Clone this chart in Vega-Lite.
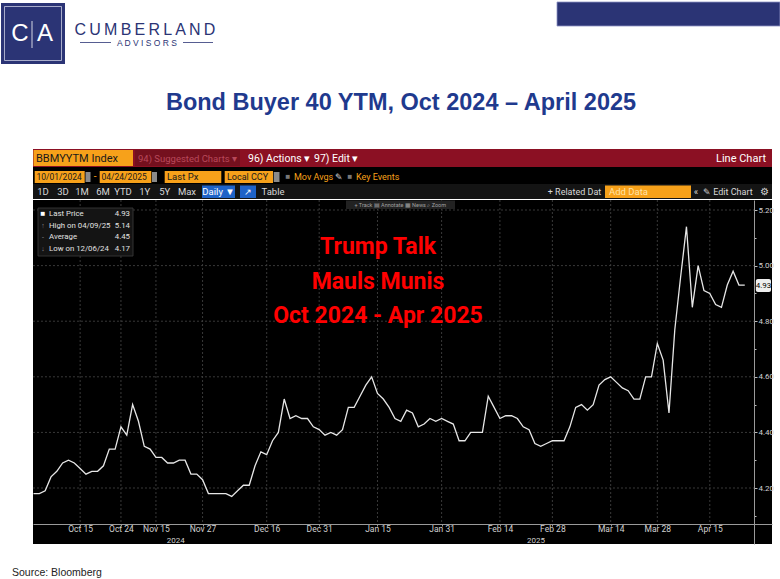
{
"$schema": "https://vega.github.io/schema/vega-lite/v6.json",
"background": "white",
"padding": 0,
"spacing": 0,
"config": {"view": {"stroke": null}, "concat": {"spacing": 0}, "text": {"font": "Roboto, sans-serif"}},
"datasets": {
"bb40": [
{"i":0,"v":4.18},{"i":1,"v":4.18},{"i":2,"v":4.19},{"i":3,"v":4.24},{"i":4,"v":4.26},{"i":5,"v":4.29},{"i":6,"v":4.30},{"i":7,"v":4.29},{"i":8,"v":4.27},{"i":9,"v":4.25},
{"i":10,"v":4.26},{"i":11,"v":4.26},{"i":12,"v":4.28},{"i":13,"v":4.34},{"i":14,"v":4.34},{"i":15,"v":4.42},{"i":16,"v":4.39},{"i":17,"v":4.50},{"i":18,"v":4.44},{"i":19,"v":4.35},
{"i":20,"v":4.34},{"i":21,"v":4.31},{"i":22,"v":4.31},{"i":23,"v":4.29},{"i":24,"v":4.29},{"i":25,"v":4.30},{"i":26,"v":4.30},{"i":27,"v":4.25},{"i":28,"v":4.25},{"i":29,"v":4.23},
{"i":30,"v":4.18},{"i":31,"v":4.18},{"i":32,"v":4.18},{"i":33,"v":4.18},{"i":34,"v":4.17},{"i":35,"v":4.19},{"i":36,"v":4.21},{"i":37,"v":4.21},{"i":38,"v":4.28},{"i":39,"v":4.33},
{"i":40,"v":4.32},{"i":41,"v":4.37},{"i":42,"v":4.40},{"i":43,"v":4.52},{"i":44,"v":4.45},{"i":45,"v":4.46},{"i":46,"v":4.45},{"i":47,"v":4.45},{"i":48,"v":4.42},{"i":49,"v":4.41},
{"i":50,"v":4.39},{"i":51,"v":4.40},{"i":52,"v":4.39},{"i":53,"v":4.41},{"i":54,"v":4.49},{"i":55,"v":4.49},{"i":56,"v":4.53},{"i":57,"v":4.57},{"i":58,"v":4.60},{"i":59,"v":4.54},
{"i":60,"v":4.52},{"i":61,"v":4.49},{"i":62,"v":4.45},{"i":63,"v":4.44},{"i":64,"v":4.48},{"i":65,"v":4.47},{"i":66,"v":4.42},{"i":67,"v":4.43},{"i":68,"v":4.45},{"i":69,"v":4.44},
{"i":70,"v":4.45},{"i":71,"v":4.44},{"i":72,"v":4.43},{"i":73,"v":4.37},{"i":74,"v":4.37},{"i":75,"v":4.40},{"i":76,"v":4.40},{"i":77,"v":4.40},{"i":78,"v":4.53},{"i":79,"v":4.49},
{"i":80,"v":4.45},{"i":81,"v":4.46},{"i":82,"v":4.46},{"i":83,"v":4.45},{"i":84,"v":4.42},{"i":85,"v":4.41},{"i":86,"v":4.36},{"i":87,"v":4.35},{"i":88,"v":4.36},{"i":89,"v":4.37},
{"i":90,"v":4.37},{"i":91,"v":4.37},{"i":92,"v":4.42},{"i":93,"v":4.49},{"i":94,"v":4.50},{"i":95,"v":4.48},{"i":96,"v":4.50},{"i":97,"v":4.57},{"i":98,"v":4.59},{"i":99,"v":4.60},
{"i":100,"v":4.58},{"i":101,"v":4.56},{"i":102,"v":4.55},{"i":103,"v":4.52},{"i":104,"v":4.52},{"i":105,"v":4.60},{"i":106,"v":4.60},{"i":107,"v":4.72},{"i":108,"v":4.66},{"i":109,"v":4.47},
{"i":110,"v":4.77},{"i":111,"v":4.96},{"i":112,"v":5.14},{"i":113,"v":4.85},{"i":114,"v":5.00},{"i":115,"v":4.91},{"i":116,"v":4.90},{"i":117,"v":4.86},{"i":118,"v":4.85},{"i":119,"v":4.93},
{"i":120,"v":4.98},{"i":121,"v":4.93},{"i":122,"v":4.93}
]
},
"vconcat": [
{
"width": 780, "height": 149,
"layer": [
{"data": {"values": [{}]}, "mark": {"type": "rect", "fill": "#2B3475"}, "encoding": {"x": {"datum": 1, "type": "quantitative", "scale": {"domain": [0, 780], "nice": false, "zero": false}, "axis": null}, "x2": {"datum": 65}, "y": {"datum": 3, "type": "quantitative", "scale": {"domain": [0, 149], "reverse": true, "nice": false, "zero": false}, "axis": null}, "y2": {"datum": 64}}},
{"data": {"values": [{}]}, "mark": {"type": "rect", "fillOpacity": 0, "stroke": "#c9cce0", "strokeWidth": 0.8}, "encoding": {"x": {"datum": 4.5, "type": "quantitative", "axis": null}, "x2": {"datum": 61.5}, "y": {"datum": 6.5, "type": "quantitative", "axis": null}, "y2": {"datum": 60.5}}},
{"data": {"values": [{}]}, "mark": {"type": "text", "text": "C", "font": "Liberation Sans, Arial, sans-serif", "fontSize": 24, "color": "white", "align": "center", "baseline": "middle"}, "encoding": {"x": {"datum": 20, "type": "quantitative", "axis": null}, "y": {"datum": 34, "type": "quantitative", "axis": null}}},
{"data": {"values": [{}]}, "mark": {"type": "rule", "color": "white", "strokeWidth": 0.8}, "encoding": {"x": {"datum": 32, "type": "quantitative", "axis": null}, "y": {"datum": 21, "type": "quantitative", "axis": null}, "y2": {"datum": 48}}},
{"data": {"values": [{}]}, "mark": {"type": "text", "text": "A", "font": "Liberation Sans, Arial, sans-serif", "fontSize": 24, "color": "white", "align": "center", "baseline": "middle"}, "encoding": {"x": {"datum": 45, "type": "quantitative", "axis": null}, "y": {"datum": 34, "type": "quantitative", "axis": null}}},
{"data": {"values": [{}]}, "mark": {"type": "text", "text": "C\u2009U\u2009M\u2009B\u2009E\u2009R\u2009L\u2009A\u2009N\u2009D", "font": "Liberation Sans, Arial, sans-serif", "fontSize": 16, "color": "#2B3475", "align": "center", "baseline": "middle"}, "encoding": {"x": {"datum": 145, "type": "quantitative", "axis": null}, "y": {"datum": 30, "type": "quantitative", "axis": null}}},
{"data": {"values": [{}]}, "mark": {"type": "text", "text": "A D V I S O R S", "font": "Liberation Sans, Arial, sans-serif", "fontSize": 8.5, "color": "#2B3475", "align": "center", "baseline": "middle"}, "encoding": {"x": {"datum": 147, "type": "quantitative", "axis": null}, "y": {"datum": 42.5, "type": "quantitative", "axis": null}}},
{"data": {"values": [{}]}, "mark": {"type": "rule", "color": "#2B3475", "strokeWidth": 0.8}, "encoding": {"x": {"datum": 80, "type": "quantitative", "axis": null}, "x2": {"datum": 111}, "y": {"datum": 42.5, "type": "quantitative", "axis": null}}},
{"data": {"values": [{}]}, "mark": {"type": "rule", "color": "#2B3475", "strokeWidth": 0.8}, "encoding": {"x": {"datum": 183, "type": "quantitative", "axis": null}, "x2": {"datum": 213}, "y": {"datum": 42.5, "type": "quantitative", "axis": null}}},
{"data": {"values": [{}]}, "mark": {"type": "rect", "fill": "#2B3475", "stroke": "#8d93c4", "strokeWidth": 0.8}, "encoding": {"x": {"datum": 557, "type": "quantitative", "axis": null}, "x2": {"datum": 780}, "y": {"datum": 2, "type": "quantitative", "axis": null}, "y2": {"datum": 26}}},
{"data": {"values": [{}]}, "mark": {"type": "text", "text": "Bond Buyer 40 YTM, Oct 2024 \u2013 April 2025", "font": "Liberation Sans, Arial, sans-serif", "fontSize": 23.5, "fontWeight": "bold", "color": "#1F3A8E", "align": "center", "baseline": "middle"}, "encoding": {"x": {"datum": 401, "type": "quantitative", "axis": null}, "y": {"datum": 103, "type": "quantitative", "axis": null}}}
]
},
{
"spacing": 0,
"hconcat": [
{"width": 30, "height": 394, "data": {"values": []}, "mark": "point", "encoding": {}},
{
"spacing": 0,
"vconcat": [
{
"width": 739, "height": 18, "view": {"fill": "#8B1023", "stroke": null},
"layer": [
{"data": {"values": [{}]}, "mark": {"type": "rect", "fill": "#F7A11A"}, "encoding": {"x": {"datum": 0.5, "type": "quantitative", "scale": {"domain": [0, 739], "nice": false, "zero": false}, "axis": null}, "x2": {"datum": 100}, "y": {"datum": 1, "type": "quantitative", "scale": {"domain": [0, 18], "reverse": true, "nice": false, "zero": false}, "axis": null}, "y2": {"datum": 17}}},
{"data": {"values": [{}]}, "mark": {"type": "rect", "fill": "#74101E"}, "encoding": {"x": {"datum": 102, "type": "quantitative", "axis": null}, "x2": {"datum": 207}, "y": {"datum": 1, "type": "quantitative", "axis": null}, "y2": {"datum": 17}}},
{"data": {"values": [{}]}, "mark": {"type": "text", "text": "BBMYYTM Index", "fontSize": 11, "color": "#1a1a1a", "align": "left", "baseline": "middle"}, "encoding": {"x": {"datum": 3, "type": "quantitative", "axis": null}, "y": {"datum": 9.5, "type": "quantitative", "axis": null}}},
{"data": {"values": [{}]}, "mark": {"type": "text", "text": "94) Suggested Charts \u25be", "fontSize": 9.5, "color": "#B8485A", "align": "left", "baseline": "middle"}, "encoding": {"x": {"datum": 105, "type": "quantitative", "axis": null}, "y": {"datum": 9.5, "type": "quantitative", "axis": null}}},
{"data": {"values": [{}]}, "mark": {"type": "text", "text": "96) Actions \u25be", "fontSize": 10.5, "color": "white", "align": "left", "baseline": "middle"}, "encoding": {"x": {"datum": 215, "type": "quantitative", "axis": null}, "y": {"datum": 9.5, "type": "quantitative", "axis": null}}},
{"data": {"values": [{}]}, "mark": {"type": "text", "text": "97) Edit \u25be", "fontSize": 10.5, "color": "white", "align": "left", "baseline": "middle"}, "encoding": {"x": {"datum": 281, "type": "quantitative", "axis": null}, "y": {"datum": 9.5, "type": "quantitative", "axis": null}}},
{"data": {"values": [{}]}, "mark": {"type": "text", "text": "Line Chart", "fontSize": 11, "color": "white", "align": "right", "baseline": "middle"}, "encoding": {"x": {"datum": 733, "type": "quantitative", "axis": null}, "y": {"datum": 9.5, "type": "quantitative", "axis": null}}}
]
},
{
"width": 739, "height": 17, "view": {"fill": "#000000", "stroke": null},
"layer": [
{"data": {"values": [{}]}, "mark": {"type": "rect", "fill": "#F7A11A"}, "encoding": {"x": {"datum": 1.7, "type": "quantitative", "scale": {"domain": [0, 739], "nice": false, "zero": false}, "axis": null}, "x2": {"datum": 51.7}, "y": {"datum": 4, "type": "quantitative", "scale": {"domain": [0, 17], "reverse": true, "nice": false, "zero": false}, "axis": null}, "y2": {"datum": 16}}},
{"data": {"values": [{}]}, "mark": {"type": "rect", "fill": "#F7A11A"}, "encoding": {"x": {"datum": 66.7, "type": "quantitative", "axis": null}, "x2": {"datum": 118.3}, "y": {"datum": 4, "type": "quantitative", "axis": null}, "y2": {"datum": 16}}},
{"data": {"values": [{}]}, "mark": {"type": "rect", "fill": "#F7A11A"}, "encoding": {"x": {"datum": 131.7, "type": "quantitative", "axis": null}, "x2": {"datum": 188.3}, "y": {"datum": 4, "type": "quantitative", "axis": null}, "y2": {"datum": 16}}},
{"data": {"values": [{}]}, "mark": {"type": "rect", "fill": "#F7A11A"}, "encoding": {"x": {"datum": 191.7, "type": "quantitative", "axis": null}, "x2": {"datum": 240}, "y": {"datum": 4, "type": "quantitative", "axis": null}, "y2": {"datum": 16}}},
{"data": {"values": [{}]}, "mark": {"type": "rect", "fill": "#8a8a8a"}, "encoding": {"x": {"datum": 52.5, "type": "quantitative", "axis": null}, "x2": {"datum": 57.5}, "y": {"datum": 5, "type": "quantitative", "axis": null}, "y2": {"datum": 15}}},
{"data": {"values": [{}]}, "mark": {"type": "rect", "fill": "#8a8a8a"}, "encoding": {"x": {"datum": 119, "type": "quantitative", "axis": null}, "x2": {"datum": 124}, "y": {"datum": 5, "type": "quantitative", "axis": null}, "y2": {"datum": 15}}},
{"data": {"values": [{}]}, "mark": {"type": "rect", "fill": "#8a8a8a"}, "encoding": {"x": {"datum": 240.7, "type": "quantitative", "axis": null}, "x2": {"datum": 246.5}, "y": {"datum": 5, "type": "quantitative", "axis": null}, "y2": {"datum": 15}}},
{"data": {"values": [{}]}, "mark": {"type": "text", "text": "10/01/2024", "fontSize": 8.5, "color": "#1a1a1a", "align": "left", "baseline": "middle"}, "encoding": {"x": {"datum": 3.5, "type": "quantitative", "axis": null}, "y": {"datum": 10, "type": "quantitative", "axis": null}}},
{"data": {"values": [{}]}, "mark": {"type": "text", "text": "-", "fontSize": 10, "color": "#F7A11A", "align": "center", "baseline": "middle"}, "encoding": {"x": {"datum": 62, "type": "quantitative", "axis": null}, "y": {"datum": 10, "type": "quantitative", "axis": null}}},
{"data": {"values": [{}]}, "mark": {"type": "text", "text": "04/24/2025", "fontSize": 8.5, "color": "#1a1a1a", "align": "left", "baseline": "middle"}, "encoding": {"x": {"datum": 68.5, "type": "quantitative", "axis": null}, "y": {"datum": 10, "type": "quantitative", "axis": null}}},
{"data": {"values": [{}]}, "mark": {"type": "text", "text": "Last Px", "fontSize": 9.5, "color": "#1a1a1a", "align": "left", "baseline": "middle"}, "encoding": {"x": {"datum": 134, "type": "quantitative", "axis": null}, "y": {"datum": 10, "type": "quantitative", "axis": null}}},
{"data": {"values": [{}]}, "mark": {"type": "text", "text": "Local CCY", "fontSize": 9, "color": "#1a1a1a", "align": "left", "baseline": "middle"}, "encoding": {"x": {"datum": 194, "type": "quantitative", "axis": null}, "y": {"datum": 10, "type": "quantitative", "axis": null}}},
{"data": {"values": [{}]}, "mark": {"type": "text", "text": "\u25a0", "fontSize": 8, "color": "#777777", "align": "center", "baseline": "middle"}, "encoding": {"x": {"datum": 255, "type": "quantitative", "axis": null}, "y": {"datum": 10, "type": "quantitative", "axis": null}}},
{"data": {"values": [{}]}, "mark": {"type": "text", "text": "Mov Avgs", "fontSize": 9, "color": "#F7A11A", "align": "left", "baseline": "middle"}, "encoding": {"x": {"datum": 261, "type": "quantitative", "axis": null}, "y": {"datum": 10, "type": "quantitative", "axis": null}}},
{"data": {"values": [{}]}, "mark": {"type": "text", "text": "\u270e", "fontSize": 9, "color": "#dddddd", "align": "center", "baseline": "middle"}, "encoding": {"x": {"datum": 306, "type": "quantitative", "axis": null}, "y": {"datum": 10, "type": "quantitative", "axis": null}}},
{"data": {"values": [{}]}, "mark": {"type": "text", "text": "\u25a0", "fontSize": 8, "color": "#777777", "align": "center", "baseline": "middle"}, "encoding": {"x": {"datum": 317, "type": "quantitative", "axis": null}, "y": {"datum": 10, "type": "quantitative", "axis": null}}},
{"data": {"values": [{}]}, "mark": {"type": "text", "text": "Key Events", "fontSize": 9, "color": "#F7A11A", "align": "left", "baseline": "middle"}, "encoding": {"x": {"datum": 323, "type": "quantitative", "axis": null}, "y": {"datum": 10, "type": "quantitative", "axis": null}}}
]
},
{
"width": 739, "height": 15, "view": {"fill": "#141414", "stroke": null},
"layer": [
{"data": {"values": [{}]}, "mark": {"type": "rect", "fill": "#1F63C8"}, "encoding": {"x": {"datum": 169, "type": "quantitative", "scale": {"domain": [0, 739], "nice": false, "zero": false}, "axis": null}, "x2": {"datum": 202}, "y": {"datum": 1.5, "type": "quantitative", "scale": {"domain": [0, 15], "reverse": true, "nice": false, "zero": false}, "axis": null}, "y2": {"datum": 14}}},
{"data": {"values": [{}]}, "mark": {"type": "rect", "fill": "#1F63C8"}, "encoding": {"x": {"datum": 207, "type": "quantitative", "axis": null}, "x2": {"datum": 223}, "y": {"datum": 1.5, "type": "quantitative", "axis": null}, "y2": {"datum": 14}}},
{"data": {"values": [{}]}, "mark": {"type": "rect", "fill": "#F7A11A"}, "encoding": {"x": {"datum": 572, "type": "quantitative", "axis": null}, "x2": {"datum": 658}, "y": {"datum": 1.5, "type": "quantitative", "axis": null}, "y2": {"datum": 14}}},
{"data": {"values": [{}]}, "mark": {"type": "text", "text": "1D", "fontSize": 9.5, "color": "#d8d8d8", "align": "center", "baseline": "middle"}, "encoding": {"x": {"datum": 10, "type": "quantitative", "axis": null}, "y": {"datum": 7.8, "type": "quantitative", "axis": null}}},
{"data": {"values": [{}]}, "mark": {"type": "text", "text": "3D", "fontSize": 9.5, "color": "#d8d8d8", "align": "center", "baseline": "middle"}, "encoding": {"x": {"datum": 30, "type": "quantitative", "axis": null}, "y": {"datum": 7.8, "type": "quantitative", "axis": null}}},
{"data": {"values": [{}]}, "mark": {"type": "text", "text": "1M", "fontSize": 9.5, "color": "#d8d8d8", "align": "center", "baseline": "middle"}, "encoding": {"x": {"datum": 49, "type": "quantitative", "axis": null}, "y": {"datum": 7.8, "type": "quantitative", "axis": null}}},
{"data": {"values": [{}]}, "mark": {"type": "text", "text": "6M", "fontSize": 9.5, "color": "#d8d8d8", "align": "center", "baseline": "middle"}, "encoding": {"x": {"datum": 70, "type": "quantitative", "axis": null}, "y": {"datum": 7.8, "type": "quantitative", "axis": null}}},
{"data": {"values": [{}]}, "mark": {"type": "text", "text": "YTD", "fontSize": 9.5, "color": "#d8d8d8", "align": "center", "baseline": "middle"}, "encoding": {"x": {"datum": 90, "type": "quantitative", "axis": null}, "y": {"datum": 7.8, "type": "quantitative", "axis": null}}},
{"data": {"values": [{}]}, "mark": {"type": "text", "text": "1Y", "fontSize": 9.5, "color": "#d8d8d8", "align": "center", "baseline": "middle"}, "encoding": {"x": {"datum": 111.7, "type": "quantitative", "axis": null}, "y": {"datum": 7.8, "type": "quantitative", "axis": null}}},
{"data": {"values": [{}]}, "mark": {"type": "text", "text": "5Y", "fontSize": 9.5, "color": "#d8d8d8", "align": "center", "baseline": "middle"}, "encoding": {"x": {"datum": 131.7, "type": "quantitative", "axis": null}, "y": {"datum": 7.8, "type": "quantitative", "axis": null}}},
{"data": {"values": [{}]}, "mark": {"type": "text", "text": "Max", "fontSize": 9.5, "color": "#d8d8d8", "align": "center", "baseline": "middle"}, "encoding": {"x": {"datum": 154, "type": "quantitative", "axis": null}, "y": {"datum": 7.8, "type": "quantitative", "axis": null}}},
{"data": {"values": [{}]}, "mark": {"type": "text", "text": "Daily \u25bc", "fontSize": 9.5, "color": "white", "align": "center", "baseline": "middle"}, "encoding": {"x": {"datum": 185.5, "type": "quantitative", "axis": null}, "y": {"datum": 7.8, "type": "quantitative", "axis": null}}},
{"data": {"values": [{}]}, "mark": {"type": "text", "text": "\u2197", "fontSize": 9, "color": "white", "align": "center", "baseline": "middle"}, "encoding": {"x": {"datum": 215, "type": "quantitative", "axis": null}, "y": {"datum": 7.8, "type": "quantitative", "axis": null}}},
{"data": {"values": [{}]}, "mark": {"type": "text", "text": "Table", "fontSize": 9.5, "color": "#d8d8d8", "align": "center", "baseline": "middle"}, "encoding": {"x": {"datum": 240, "type": "quantitative", "axis": null}, "y": {"datum": 7.8, "type": "quantitative", "axis": null}}},
{"data": {"values": [{}]}, "mark": {"type": "text", "text": "+ Related Dat", "fontSize": 9, "color": "#d8d8d8", "align": "center", "baseline": "middle"}, "encoding": {"x": {"datum": 541.5, "type": "quantitative", "axis": null}, "y": {"datum": 7.8, "type": "quantitative", "axis": null}}},
{"data": {"values": [{}]}, "mark": {"type": "text", "text": "Add Data", "fontSize": 9.5, "color": "#FFE3A8", "align": "left", "baseline": "middle"}, "encoding": {"x": {"datum": 576, "type": "quantitative", "axis": null}, "y": {"datum": 7.8, "type": "quantitative", "axis": null}}},
{"data": {"values": [{}]}, "mark": {"type": "text", "text": "\u00ab", "fontSize": 9.5, "color": "#d8d8d8", "align": "center", "baseline": "middle"}, "encoding": {"x": {"datum": 663, "type": "quantitative", "axis": null}, "y": {"datum": 7.8, "type": "quantitative", "axis": null}}},
{"data": {"values": [{}]}, "mark": {"type": "text", "text": "\u270e Edit Chart", "fontSize": 9, "color": "#d8d8d8", "align": "left", "baseline": "middle"}, "encoding": {"x": {"datum": 670, "type": "quantitative", "axis": null}, "y": {"datum": 7.8, "type": "quantitative", "axis": null}}},
{"data": {"values": [{}]}, "mark": {"type": "text", "text": "\u2699", "fontSize": 9.5, "color": "#d8d8d8", "align": "center", "baseline": "middle"}, "encoding": {"x": {"datum": 731, "type": "quantitative", "axis": null}, "y": {"datum": 7.8, "type": "quantitative", "axis": null}}}
]
},
{
"width": 739, "height": 344, "view": {"fill": "#000000", "stroke": null},
"resolve": {"axis": {"x": "independent", "y": "independent"}},
"layer": [
{"data": {"values": [{"g": 4.2}, {"g": 4.4}, {"g": 4.6}, {"g": 4.8}, {"g": 5.0}, {"g": 5.2}]}, "mark": {"type": "rule", "color": "#404040", "strokeWidth": 0.9, "strokeDash": [2, 2]}, "encoding": {"y": {"field": "g", "type": "quantitative", "axis": null}, "x": {"datum": -0.09, "type": "quantitative", "axis": null}, "x2": {"datum": 123.6}}},
{"data": {"values": [{"t": 8}, {"t": 15}, {"t": 21}, {"t": 29}, {"t": 40}, {"t": 49}, {"t": 59}, {"t": 70}, {"t": 80}, {"t": 89}, {"t": 99}, {"t": 107}, {"t": 116}]}, "mark": {"type": "rule", "color": "#404040", "strokeWidth": 0.9, "strokeDash": [2, 2]}, "encoding": {"x": {"field": "t", "type": "quantitative", "axis": null}, "y": {"datum": 5.236, "type": "quantitative", "axis": null}, "y2": {"datum": 4.0716}}},
{"data": {"values": [{}]}, "mark": {"type": "rect", "fill": "#141414", "stroke": "#3d3d3d", "strokeWidth": 0.8}, "encoding": {"x": {"datum": 0.77, "type": "quantitative", "axis": null}, "x2": {"datum": 17.07}, "y": {"datum": 5.2072, "type": "quantitative", "axis": null}, "y2": {"datum": 5.0345}}},
{"data": {"values": [{}]}, "mark": {"type": "text", "text": "\u25a0", "fontSize": 8, "color": "white", "align": "center", "baseline": "middle"}, "encoding": {"x": {"datum": 1.63, "type": "quantitative", "axis": null}, "y": {"datum": 5.1856, "type": "quantitative", "axis": null}}},
{"data": {"values": [{}]}, "mark": {"type": "text", "text": ["\u2191", "-", "\u2193"], "lineHeight": 11.7, "fontSize": 7, "color": "#8a8a8a", "align": "center", "baseline": "middle"}, "encoding": {"x": {"datum": 1.63, "type": "quantitative", "axis": null}, "y": {"datum": 5.1424, "type": "quantitative", "axis": null}}},
{"data": {"values": [{}]}, "mark": {"type": "text", "text": ["Last Price", "High on 04/09/25", "Average", "Low on 12/06/24"], "lineHeight": 11.7, "fontSize": 7.8, "color": "#e2e2e2", "align": "left", "baseline": "middle"}, "encoding": {"x": {"datum": 2.66, "type": "quantitative", "axis": null}, "y": {"datum": 5.1856, "type": "quantitative", "axis": null}}},
{"data": {"values": [{}]}, "mark": {"type": "text", "text": ["4.93", "5.14", "4.45", "4.17"], "lineHeight": 11.7, "fontSize": 7.8, "color": "#e2e2e2", "align": "right", "baseline": "middle"}, "encoding": {"x": {"datum": 16.55, "type": "quantitative", "axis": null}, "y": {"datum": 5.1856, "type": "quantitative", "axis": null}}},
{"data": {"values": [{}]}, "mark": {"type": "rect", "fill": "#222222"}, "encoding": {"x": {"datum": 53.6, "type": "quantitative", "axis": null}, "x2": {"datum": 72.3}, "y": {"datum": 5.2342, "type": "quantitative", "axis": null}, "y2": {"datum": 5.2036}}},
{"data": {"values": [{}]}, "mark": {"type": "text", "text": "+ Track   \u25a4 Annotate   \u25a6 News   \u2315 Zoom", "fontSize": 5.5, "color": "#a0a0a0", "align": "center", "baseline": "middle"}, "encoding": {"x": {"datum": 62.9, "type": "quantitative", "axis": null}, "y": {"datum": 5.219, "type": "quantitative", "axis": null}}},
{"data": {"values": [{}]}, "mark": {"type": "text", "text": ["Trump Talk", "Mauls Munis", "Oct 2024 - Apr 2025"], "lineHeight": 34.5, "fontSize": 23, "fontWeight": "bold", "color": "#FF0000", "align": "center", "baseline": "middle"}, "encoding": {"x": {"datum": 59.09, "type": "quantitative", "axis": null}, "y": {"datum": 5.0669, "type": "quantitative", "axis": null}}},
{"data": {"name": "bb40"}, "mark": {"type": "line", "color": "#e6e6e6", "strokeWidth": 1.3},
 "encoding": {
  "x": {"field": "i", "type": "quantitative", "scale": {"domain": [-0.086, 126.67], "nice": false, "zero": false},
        "axis": {"orient": "bottom", "offset": -20, "values": [8, 15, 21, 29, 40, 49, 59, 70, 80, 89, 99, 107, 116],
                 "labelExpr": "['Oct 15','Oct 24','Nov 15','Nov 27','Dec 16','Dec 31','Jan 15','Jan 31','Feb 14','Feb 28','Mar 14','Mar 28','Apr 15'][indexof([8,15,21,29,40,49,59,70,80,89,99,107,116], datum.value)]",
                 "grid": false, "title": null, "domainColor": "#9a9a9a", "tickColor": "#9a9a9a", "tickSize": 2, "labelColor": "#d0d0d0", "labelFontSize": 8.5, "labelFont": "Roboto, sans-serif", "labelPadding": -1.5, "labelFlush": false, "labelOverlap": false}},
  "y": {"field": "v", "type": "quantitative", "scale": {"domain": [3.9986, 5.236], "nice": false, "zero": false},
        "axis": {"orient": "right", "offset": -18, "values": [4.1, 4.2, 4.3, 4.4, 4.5, 4.6, 4.7, 4.8, 4.9, 5.0, 5.1, 5.2],
                 "labelExpr": "round(datum.value*10)%2==0 ? format(datum.value,'.2f') : ''",
                 "grid": false, "title": null, "domainColor": "#9a9a9a", "tickColor": "#bbbbbb",
                 "tickSize": {"condition": {"test": "round(datum.value*10)%2==0", "value": 3}, "value": 2},
                 "labelColor": "#d0d0d0", "labelFontSize": 8, "labelFont": "Roboto, sans-serif", "labelPadding": 1, "labelOverlap": false, "labelFlush": false}}
 }},
{"data": {"values": [{}]}, "mark": {"type": "rect", "fill": "#eeeeee", "cornerRadius": 2}, "encoding": {"x": {"datum": 123.9, "type": "quantitative", "axis": null}, "x2": {"datum": 126.5}, "y": {"datum": 4.9518, "type": "quantitative", "axis": null}, "y2": {"datum": 4.905}}},
{"data": {"values": [{}]}, "mark": {"type": "text", "text": "4.93", "fontSize": 8, "color": "#000000", "align": "center", "baseline": "middle"}, "encoding": {"x": {"datum": 125.2, "type": "quantitative", "axis": null}, "y": {"datum": 4.928, "type": "quantitative", "axis": null}}},
{"data": {"values": [{}]}, "mark": {"type": "text", "text": "2024", "fontSize": 8, "color": "#cfcfcf", "align": "center", "baseline": "middle"}, "encoding": {"x": {"datum": 24.4, "type": "quantitative", "axis": null}, "y": {"datum": 4.0093, "type": "quantitative", "axis": null}}},
{"data": {"values": [{}]}, "mark": {"type": "text", "text": "2025", "fontSize": 8, "color": "#cfcfcf", "align": "center", "baseline": "middle"}, "encoding": {"x": {"datum": 86.2, "type": "quantitative", "axis": null}, "y": {"datum": 4.0093, "type": "quantitative", "axis": null}}}
]
}
]
}
]
},
{
"width": 780, "height": 36,
"layer": [
{"data": {"values": [{}]}, "mark": {"type": "text", "text": "Source: Bloomberg", "font": "Liberation Sans, Arial, sans-serif", "fontSize": 10.5, "color": "#222222", "align": "left", "baseline": "middle"}, "encoding": {"x": {"datum": 12, "type": "quantitative", "scale": {"domain": [0, 780], "nice": false, "zero": false}, "axis": null}, "y": {"datum": 27, "type": "quantitative", "scale": {"domain": [0, 36], "reverse": true, "nice": false, "zero": false}, "axis": null}}}
]
}
]
}
